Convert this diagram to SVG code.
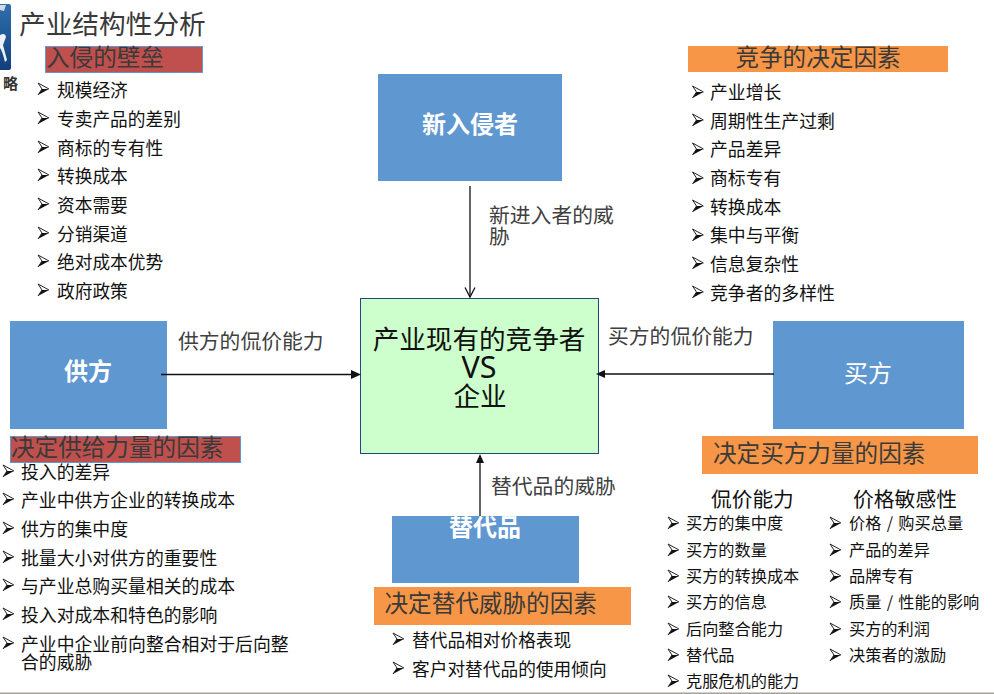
<svg xmlns="http://www.w3.org/2000/svg" width="994" height="694" viewBox="0 0 994 694">
<style>
text{font-family:"Noto Sans CJK SC","Liberation Sans",sans-serif}
.l{font-size:17.7px;fill:#111}
.w{font-size:17.85px;fill:#111}
.s{font-size:16.2px;fill:#111}
.h{font-size:23.6px;fill:#3a3a3a}
.c{font-size:20.8px;fill:#404040}
.b{fill:#5f97d1}
.n{font-size:24px;fill:#fff;font-weight:700;text-anchor:middle}
.a{stroke:#111;stroke-width:1.3;fill:none}
.t{fill:#111}
</style>
<defs>
<linearGradient id="lg" x1="0" y1="0" x2="0" y2="1"><stop offset="0" stop-color="#2f6fae"/><stop offset="1" stop-color="#123f7c"/></linearGradient>
<g id="m"><path d="M0 6L11 0L4 0Z" fill="#111"/><path d="M0 -6L11 0M0 -6L4 0L0 6" fill="none" stroke="#222" stroke-width="1"/></g>
</defs>
<rect width="994" height="694" fill="#fff"/>
<g id="logo">
<path d="M0 4H9Q11 4 11 6V68Q11 70 9 70H0Z" fill="url(#lg)"/>
<path d="M0 5H6L4 11L0 10Z" fill="#cfd8e4"/>
<path d="M0 35Q5 32 6 37L3 45L7 60L5 62Q2 50 0 48Z" fill="#eef2f7"/>
<text x="3" y="89" style="font-size:15px;font-weight:700;fill:#333">略</text>
</g>
<text x="19" y="34" style="font-size:26.700px;fill:#3a3a3a">产业结构性分析</text>
<g id="entrant"><rect class="b" x="378" y="74" width="184" height="107"/><text class="n" x="470" y="133">新入侵者</text></g>
<g id="supplier"><rect class="b" x="10" y="321" width="157" height="108"/><text class="n" x="88" y="380">供方</text></g>
<g id="buyer"><rect class="b" x="773" y="321" width="191" height="108"/><text x="868" y="382" style="font-size:24px;fill:#fff;text-anchor:middle">买方</text></g>
<g id="substitute"><rect class="b" x="392" y="516" width="187" height="67"/><text class="n" x="485" y="536">替代品</text></g>
<g id="rivalry"><rect x="360.500" y="298.500" width="238" height="155" fill="#ccffcc" stroke="#1f497d"/>
<text x="479" y="349" style="font-size:26.600px;fill:#111;text-anchor:middle">产业现有的竞争者</text>
<text x="479" y="378" style="font-size:30.500px;fill:#111;text-anchor:middle;font-family:'Noto Sans',sans-serif">VS</text>
<text x="480" y="406" style="font-size:26.600px;fill:#111;text-anchor:middle">企业</text></g>
<g id="connectors">
<path class="a" d="M470 186V297"/><path class="a" d="M465 287.500L470 297L475 287.500"/>
<path class="a" d="M161 374.500H353"/><path class="t" d="M361 374.500L351 370V379Z"/>
<path class="a" d="M774 374H603"/><path class="t" d="M596 374L605 370V378Z"/>
<path class="a" d="M480 516V461"/><path class="t" d="M480 454L476 463H484Z"/>
</g>
<g id="threat-new"><text class="c" x="489" y="223">新进入者的威</text><text class="c" x="489" y="244">胁</text></g>
<text class="c" x="178" y="349">供方的侃价能力</text>
<text class="c" x="608" y="344">买方的侃价能力</text>
<text class="c" x="491" y="494">替代品的威胁</text>
<g id="barriers"><rect x="45.500" y="46.500" width="157" height="26" fill="#c0504d" stroke="#5f97d1"/><text class="h" x="46" y="66">入侵的壁垒</text>
<use href="#m" x="38" y="89"/><text class="l" x="57" y="97">规模经济</text>
<use href="#m" x="38" y="118"/><text class="l" x="57" y="126">专卖产品的差别</text>
<use href="#m" x="38" y="147"/><text class="l" x="57" y="155">商标的专有性</text>
<use href="#m" x="38" y="175"/><text class="l" x="57" y="183">转换成本</text>
<use href="#m" x="38" y="204"/><text class="l" x="57" y="212">资本需要</text>
<use href="#m" x="38" y="233"/><text class="l" x="57" y="241">分销渠道</text>
<use href="#m" x="38" y="261"/><text class="l" x="57" y="269">绝对成本优势</text>
<use href="#m" x="38" y="290"/><text class="l" x="57" y="298">政府政策</text>
</g>
<g id="rivalry-factors"><rect x="688" y="46" width="260" height="26" fill="#f79646"/><text class="h" x="818" y="66" text-anchor="middle">竞争的决定因素</text>
<use href="#m" x="692.500" y="92"/><text class="w" x="710" y="99">产业增长</text>
<use href="#m" x="692.500" y="120"/><text class="w" x="710" y="128">周期性生产过剩</text>
<use href="#m" x="692.500" y="149"/><text class="w" x="710" y="156">产品差异</text>
<use href="#m" x="692.500" y="178"/><text class="w" x="710" y="185">商标专有</text>
<use href="#m" x="692.500" y="206"/><text class="w" x="710" y="214">转换成本</text>
<use href="#m" x="692.500" y="235"/><text class="w" x="710" y="242">集中与平衡</text>
<use href="#m" x="692.500" y="263"/><text class="w" x="710" y="271">信息复杂性</text>
<use href="#m" x="692.500" y="292"/><text class="w" x="710" y="300">竞争者的多样性</text>
</g>
<g id="supply-factors"><rect x="10.500" y="436.500" width="230" height="26" fill="#c0504d" stroke="#5f97d1"/><text class="h" x="11" y="456">决定供给力量的因素</text>
<use href="#m" x="3" y="471"/><text class="w" x="21" y="479">投入的差异</text>
<use href="#m" x="3" y="499"/><text class="w" x="21" y="507">产业中供方企业的转换成本</text>
<use href="#m" x="3" y="528"/><text class="w" x="21" y="536">供方的集中度</text>
<use href="#m" x="3" y="557"/><text class="w" x="21" y="565">批量大小对供方的重要性</text>
<use href="#m" x="3" y="585"/><text class="w" x="21" y="593">与产业总购买量相关的成本</text>
<use href="#m" x="3" y="614"/><text class="w" x="21" y="622">投入对成本和特色的影响</text>
<use href="#m" x="3" y="643"/><text class="w" x="21" y="651">产业中企业前向整合相对于后向整</text><text class="w" x="21" y="669">合的威胁</text>
</g>
<g id="buyer-factors"><rect x="702" y="436" width="276" height="38" fill="#f79646"/><text class="h" x="713" y="462">决定买方力量的因素</text>
<text x="711" y="507" style="font-size:20.700px;fill:#111">侃价能力</text>
<text x="853" y="507" style="font-size:20.800px;fill:#111">价格敏感性</text>
<use href="#m" x="668" y="523"/><text class="s" x="686" y="529">买方的集中度</text>
<use href="#m" x="668" y="550"/><text class="s" x="686" y="556">买方的数量</text>
<use href="#m" x="668" y="576"/><text class="s" x="686" y="582">买方的转换成本</text>
<use href="#m" x="668" y="602"/><text class="s" x="686" y="608">买方的信息</text>
<use href="#m" x="668" y="629"/><text class="s" x="686" y="635">后向整合能力</text>
<use href="#m" x="668" y="655"/><text class="s" x="686" y="661">替代品</text>
<use href="#m" x="668" y="681"/><text class="s" x="686" y="687">克服危机的能力</text>
<use href="#m" x="830" y="523"/><text class="s" x="849" y="529" style="word-spacing:1.700px">价格 / 购买总量</text>
<use href="#m" x="830" y="550"/><text class="s" x="849" y="556">产品的差异</text>
<use href="#m" x="830" y="576"/><text class="s" x="849" y="582">品牌专有</text>
<use href="#m" x="830" y="602"/><text class="s" x="849" y="608" style="word-spacing:1.700px">质量 / 性能的影响</text>
<use href="#m" x="830" y="629"/><text class="s" x="849" y="635">买方的利润</text>
<use href="#m" x="830" y="655"/><text class="s" x="849" y="661">决策者的激励</text>
</g>
<g id="substitute-factors"><rect x="374" y="587" width="257" height="38" fill="#f79646"/><text class="h" x="384.500" y="612">决定替代威胁的因素</text>
<use href="#m" x="393" y="639"/><text class="l" x="412" y="647">替代品相对价格表现</text>
<use href="#m" x="393" y="668"/><text class="l" x="412" y="676">客户对替代品的使用倾向</text>
</g>
<rect x="0" y="692.500" width="994" height="1.500" fill="#a6a29a"/>
</svg>
